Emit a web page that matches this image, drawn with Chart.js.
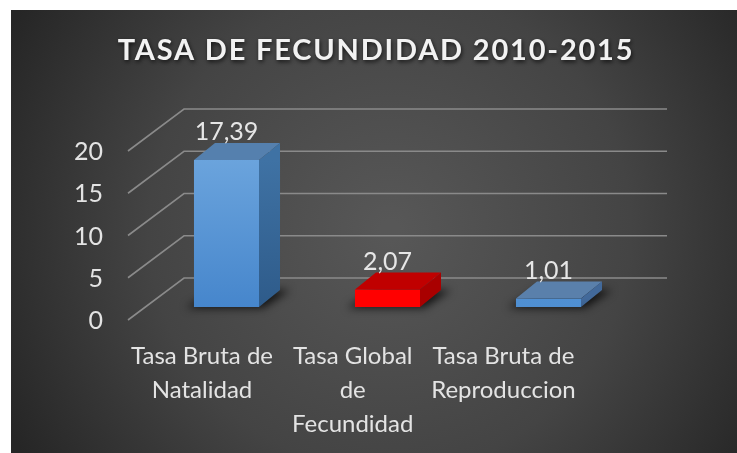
<!DOCTYPE html>
<html>
<head>
<meta charset="utf-8">
<script src="https://cdn.jsdelivr.net/npm/chart.js@4.4.1/dist/chart.umd.min.js"></script>
<style>
html,body{margin:0;padding:0;background:#ffffff;}
#wrap{position:relative;width:737px;height:453px;}
</style>
</head>
<body>
<div id="wrap"><canvas id="c" width="737" height="453"></canvas></div>
<script>
// ---- data ----
const chartTitle = "TASA DE FECUNDIDAD 2010-2015";
const categories = [["Tasa Bruta de","Natalidad"],["Tasa Global","de","Fecundidad"],["Tasa Bruta de","Reproduccion"]];
const values = [17.39, 2.07, 1.01];
const yTicks = [0, 5, 10, 15, 20];

// ---- styles ----
const frontTop = ["#70a8df", "#ff0000", "#5fa3e2"];
const frontBot = ["#4686cc", "#ff0000", "#4f8fd2"];
const topCol   = ["#5580ae", "#c00000", "#5a80ab"];
const sideTop  = ["#3f72a4", "#a90000", "#42699a"];
const sideBot  = ["#2e5b8a", "#a90000", "#3b6190"];
const DEPTH_DX = 21, DEPTH_DY = -17;
const FONT = "Lato, 'Open Sans', sans-serif";

function fmt(v){ return v.toFixed(2).replace('.', ','); }

const bgPlugin = {
  id: 'bg3d',
  beforeDraw(chart){
    const ctx = chart.ctx;
    const ys = chart.scales.y, a = chart.chartArea;
    ctx.save();
    const g = ctx.createRadialGradient(390, 230, 10, 390, 230, 430);
    g.addColorStop(0, '#575757');
    g.addColorStop(0.55, '#444444');
    g.addColorStop(1, '#262626');
    ctx.fillStyle = g;
    ctx.fillRect(11, 10, 726, 443);
    // title
    ctx.font = "bold 29px " + FONT;
    ctx.letterSpacing = "1.8px";
    ctx.textAlign = 'center';
    ctx.textBaseline = 'middle';
    ctx.shadowColor = 'rgba(0,0,0,0.7)';
    ctx.shadowBlur = 4; ctx.shadowOffsetX = 1; ctx.shadowOffsetY = 2;
    ctx.fillStyle = '#f2f2f2';
    ctx.fillText(chartTitle, 376, 51);
    ctx.restore();

    // grid: back wall lines + diagonal side-wall lines
    ctx.save();
    ctx.strokeStyle = '#8a8a8a';
    ctx.lineWidth = 1.6;
    yTicks.forEach(v => {
      const y = ys.getPixelForValue(v);
      ctx.beginPath();
      ctx.moveTo(a.left - 18, y + 13);
      ctx.lineTo(a.left + 38, y - 29);
      ctx.lineTo(a.right + 38, y - 29);
      ctx.stroke();
    });
    // y tick labels
    ctx.fillStyle = '#e3e3e3';
    ctx.font = "25px " + FONT;
    ctx.textAlign = 'right';
    ctx.textBaseline = 'middle';
    yTicks.forEach(v => {
      const y = ys.getPixelForValue(v);
      ctx.fillText(String(v), 103, y + 14);
    });
    // category labels (projected to the front edge of the floor)
    const xs = chart.scales.x;
    ctx.font = "24px " + FONT;
    ctx.textAlign = 'center';
    categories.forEach((lines, i) => {
      const px = xs.getPixelForValue(i);
      const lx = -10 + 0.936 * px;
      lines.forEach((t, j) => ctx.fillText(t, lx, 356 + j * 34));
    });
    ctx.restore();
  },
  beforeDatasetsDraw(chart){
    const ctx = chart.ctx;
    const meta = chart.getDatasetMeta(0);
    ctx.save();
    ctx.filter = 'blur(4px)';
    ctx.fillStyle = 'rgba(0,0,0,0.75)';
    meta.data.forEach(el => {
      const l = el.x - el.width/2, r = el.x + el.width/2, b = el.base;
      ctx.beginPath();
      ctx.moveTo(l - 8, b + 1);
      ctx.lineTo(r + 4, b + 1);
      ctx.lineTo(r + DEPTH_DX + 10, b + DEPTH_DY);
      ctx.lineTo(l + DEPTH_DX, b + DEPTH_DY);
      ctx.closePath();
      ctx.fill();
    });
    ctx.restore();
  },
  afterDatasetsDraw(chart){
    const ctx = chart.ctx;
    const meta = chart.getDatasetMeta(0);
    ctx.save();
    meta.data.forEach((el, i) => {
      const l = el.x - el.width/2, r = el.x + el.width/2, t = el.y, b = el.base;
      ctx.fillStyle = topCol[i];
      ctx.beginPath();
      ctx.moveTo(l, t); ctx.lineTo(r, t);
      ctx.lineTo(r + DEPTH_DX, t + DEPTH_DY); ctx.lineTo(l + DEPTH_DX, t + DEPTH_DY);
      ctx.closePath(); ctx.fill();
      const sg = ctx.createLinearGradient(0, t, 0, b);
      sg.addColorStop(0, sideTop[i]); sg.addColorStop(1, sideBot[i]);
      ctx.fillStyle = sg;
      ctx.beginPath();
      ctx.moveTo(r, t); ctx.lineTo(r + DEPTH_DX, t + DEPTH_DY);
      ctx.lineTo(r + DEPTH_DX, b + DEPTH_DY); ctx.lineTo(r, b);
      ctx.closePath(); ctx.fill();
      ctx.fillStyle = '#e6e6e6';
      ctx.font = "25px " + FONT;
      ctx.textAlign = 'center';
      ctx.textBaseline = 'middle';
      ctx.fillText(fmt(values[i]), el.x, t - 28);
    });
    ctx.restore();
  }
};

new Chart(document.getElementById('c'), {
  type: 'bar',
  data: {
    labels: categories,
    datasets: [{
      data: values,
      backgroundColor: (c) => {
        const a = c.chart.chartArea;
        if (!a) return frontTop[c.dataIndex];
        const el = c.chart.getDatasetMeta(0).data[c.dataIndex];
        const top = el && isFinite(el.y) ? el.y : a.top;
        const g = c.chart.ctx.createLinearGradient(0, top, 0, a.bottom);
        g.addColorStop(0, frontTop[c.dataIndex]);
        g.addColorStop(1, frontBot[c.dataIndex]);
        return g;
      },
      borderWidth: 0,
      categoryPercentage: 1,
      barPercentage: 0.404
    }]
  },
  options: {
    responsive: false,
    animation: false,
    devicePixelRatio: 1,
    layout: { padding: { left: 146, right: 108, top: 138, bottom: 146 } },
    scales: {
      x: { display: false },
      y: { display: false, min: 0, max: 20 }
    },
    plugins: { legend: { display: false }, tooltip: { enabled: false }, title: { display: false } }
  },
  plugins: [bgPlugin]
});
</script>
</body>
</html>
